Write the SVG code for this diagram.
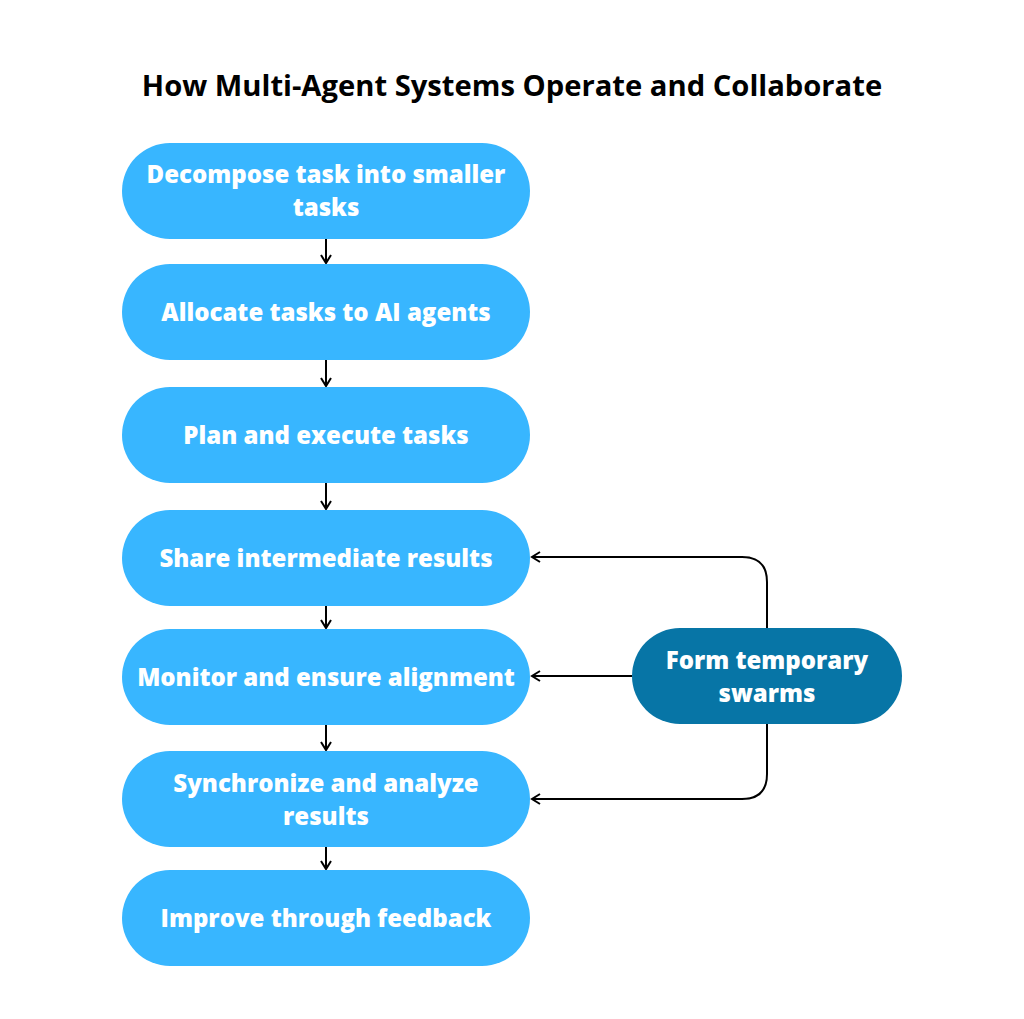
<svg xmlns="http://www.w3.org/2000/svg" width="1024" height="1019" viewBox="0 0 1024 1019">
<defs>
<style>
.n{fill:#38B6FF}
.d{fill:#0775A6}
.t{font-family:"Open Sans",sans-serif;font-weight:800;font-size:24px;fill:#fff;text-anchor:middle}
.h{font-family:"Open Sans",sans-serif;font-weight:700;font-size:29.2px;fill:#000;text-anchor:middle}
.c{fill:none;stroke:#000;stroke-width:2}
</style>
<marker id="a" viewBox="0 0 12 12" refX="10" refY="6" markerWidth="12" markerHeight="12" markerUnits="userSpaceOnUse" orient="auto">
<path d="M2,1 L10,6 L2,11" fill="none" stroke="#000" stroke-width="2"/>
</marker>
</defs>
<rect width="1024" height="1019" fill="#fff"/>
<text class="h" x="512" y="96">How Multi-Agent Systems Operate and Collaborate</text>
<g id="connectors">
<path class="c" d="M326,239 V263" marker-end="url(#a)"/>
<path class="c" d="M326,360 V386" marker-end="url(#a)"/>
<path class="c" d="M326,483 V509" marker-end="url(#a)"/>
<path class="c" d="M326,606 V628" marker-end="url(#a)"/>
<path class="c" d="M326,725 V750" marker-end="url(#a)"/>
<path class="c" d="M326,847 V869" marker-end="url(#a)"/>
<path class="c" d="M767,628 V582 Q767,557 742,557 H532" marker-end="url(#a)"/>
<path class="c" d="M632,676 H532" marker-end="url(#a)"/>
<path class="c" d="M767,724 V774 Q767,799 742,799 H532" marker-end="url(#a)"/>
</g>
<g id="n1"><rect class="n" x="122" y="143" width="408" height="96" rx="48"/><text class="t" x="326" y="183">Decompose task into smaller</text><text class="t" x="326" y="216">tasks</text></g>
<g id="n2"><rect class="n" x="122" y="264" width="408" height="96" rx="48"/><text class="t" x="326" y="321">Allocate tasks to AI agents</text></g>
<g id="n3"><rect class="n" x="122" y="387" width="408" height="96" rx="48"/><text class="t" x="326" y="444">Plan and execute tasks</text></g>
<g id="n4"><rect class="n" x="122" y="510" width="408" height="96" rx="48"/><text class="t" x="326" y="567">Share intermediate results</text></g>
<g id="n5"><rect class="n" x="122" y="629" width="408" height="96" rx="48"/><text class="t" x="326" y="686">Monitor and ensure alignment</text></g>
<g id="n6"><rect class="n" x="122" y="751" width="408" height="96" rx="48"/><text class="t" x="326" y="792">Synchronize and analyze</text><text class="t" x="326" y="825">results</text></g>
<g id="n7"><rect class="n" x="122" y="870" width="408" height="96" rx="48"/><text class="t" x="326" y="927">Improve through feedback</text></g>
<g id="n8"><rect class="d" x="632" y="628" width="270" height="96" rx="48"/><text class="t" x="767" y="669">Form temporary</text><text class="t" x="767" y="702">swarms</text></g>
</svg>
